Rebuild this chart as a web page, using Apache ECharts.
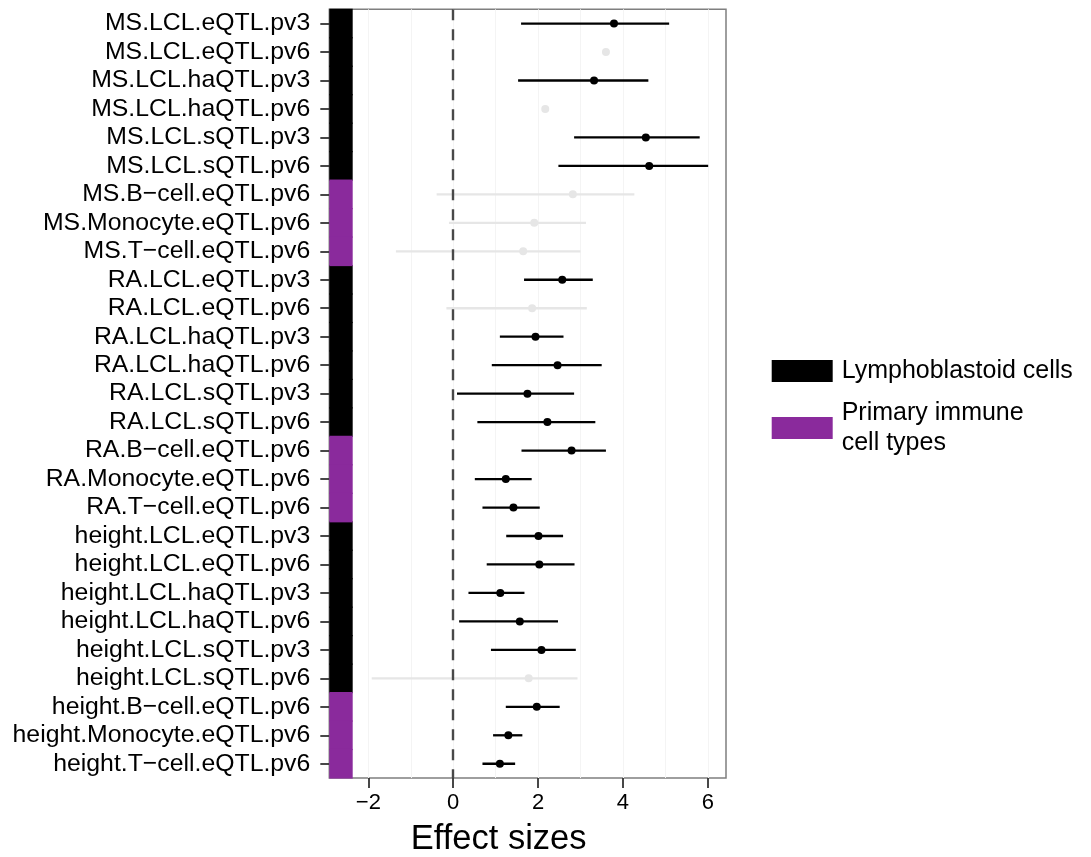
<!DOCTYPE html>
<html>
<head>
<meta charset="utf-8">
<script src="https://cdn.jsdelivr.net/npm/echarts@6/dist/echarts.min.js"></script>
<style>html,body{margin:0;padding:0;background:#fff}#c{width:1091px;height:857px}</style>
</head>
<body>
<div id="c"></div>
<script>
const categories = [
  'MS.LCL.eQTL.pv3','MS.LCL.eQTL.pv6','MS.LCL.haQTL.pv3','MS.LCL.haQTL.pv6',
  'MS.LCL.sQTL.pv3','MS.LCL.sQTL.pv6','MS.B-cell.eQTL.pv6','MS.Monocyte.eQTL.pv6',
  'MS.T-cell.eQTL.pv6','RA.LCL.eQTL.pv3','RA.LCL.eQTL.pv6','RA.LCL.haQTL.pv3',
  'RA.LCL.haQTL.pv6','RA.LCL.sQTL.pv3','RA.LCL.sQTL.pv6','RA.B-cell.eQTL.pv6',
  'RA.Monocyte.eQTL.pv6','RA.T-cell.eQTL.pv6','height.LCL.eQTL.pv3','height.LCL.eQTL.pv6',
  'height.LCL.haQTL.pv3','height.LCL.haQTL.pv6','height.LCL.sQTL.pv3','height.LCL.sQTL.pv6',
  'height.B-cell.eQTL.pv6','height.Monocyte.eQTL.pv6','height.T-cell.eQTL.pv6'
];
const estimate = [3.79,3.60,3.32,2.17,4.54,4.62,2.82,1.91,1.65,2.57,1.86,1.94,2.46,1.75,2.22,2.79,1.24,1.42,2.01,2.03,1.11,1.57,2.08,1.78,1.97,1.30,1.10];
const lower    = [1.60,null,1.53,null,2.85,2.48,-0.39,-0.10,-1.35,1.67,-0.16,1.10,0.91,0.09,0.57,1.61,0.51,0.69,1.25,0.79,0.36,0.14,0.89,-1.92,1.24,0.94,0.69];
const upper    = [5.09,null,4.60,null,5.81,6.01,4.27,3.13,3.00,3.29,3.15,2.60,3.50,2.85,3.35,3.60,1.85,2.04,2.59,2.86,1.68,2.47,2.89,2.93,2.51,1.63,1.46];
const significant = [1,0,1,0,1,1,0,0,0,1,0,1,1,1,1,1,1,1,1,1,1,1,1,0,1,1,1];
const cellGroup = ['LCL','LCL','LCL','LCL','LCL','LCL','Primary','Primary','Primary',
  'LCL','LCL','LCL','LCL','LCL','LCL','Primary','Primary','Primary',
  'LCL','LCL','LCL','LCL','LCL','LCL','Primary','Primary','Primary'];
const groupNames = {LCL: 'Lymphoblastoid cells', Primary: 'Primary immune\ncell types'};
const xTicks = [-2, 0, 2, 4, 6];
const xGrid = [-2, -1, 0, 1, 2, 3, 4, 5, 6];
const xMin = -2.92, xMax = 6.43;

const BLACK = '#000000', GREY = '#e6e6e6', PURPLE = '#8a2a9c';
const FONT = '"Liberation Sans", Arial, Helvetica, sans-serif';
const minus = s => String(s).replace(/-/g, '\u2212');

function stripSeries(key, color) {
  return {
    type: 'custom',
    name: groupNames[key],
    z: 2,
    itemStyle: {color: color},
    data: categories.map((c, i) => cellGroup[i] === key ? [xMin, c] : null).filter(d => d),
    encode: {x: 0, y: 1},
    renderItem: function (params, api) {
      const c = api.coord([api.value(0), api.value(1)]);
      const h = api.size([0, 1])[1];
      return {
        type: 'rect',
        shape: {x: params.coordSys.x, y: c[1] - h / 2 - 0.6, width: 23.4, height: h + 1.2},
        style: {fill: color}
      };
    }
  };
}

const ciData = categories.map((c, i) => [lower[i], upper[i], c, significant[i]]).filter(d => d[0] !== null);
const pointData = categories.map((c, i) => ({
  value: [estimate[i], c],
  itemStyle: {color: significant[i] ? BLACK : GREY, opacity: 1}
}));

const chart = echarts.init(document.getElementById('c'), null, {renderer: 'canvas'});
chart.setOption({
  animation: false,
  backgroundColor: '#ffffff',
  textStyle: {fontFamily: FONT},
  grid: {left: 329.3, right: 365, top: 9.3, bottom: 79, containLabel: false, outerBoundsMode: 'none',
         show: true, borderColor: '#7f7f7f', borderWidth: 1.5, backgroundColor: '#ffffff'},
  legend: {
    orient: 'vertical',
    left: 766.7,
    top: 351,
    itemWidth: 61,
    itemHeight: 22,
    itemGap: 12,
    icon: 'rect',
    selectedMode: false,
    data: [groupNames.LCL, groupNames.Primary],
    textStyle: {fontSize: 25, lineHeight: 30, color: '#000', fontFamily: FONT, padding: [0, 0, 0, 4]}
  },
  xAxis: {
    type: 'value',
    min: xMin,
    max: xMax,
    name: 'Effect sizes',
    nameLocation: 'middle',
    nameGap: 44,
    nameTextStyle: {fontSize: 34.5, color: '#000', fontFamily: FONT, padding: [0, 58, 0, 0]},
    axisLine: {show: false},
    axisTick: {show: true, length: 10, customValues: xTicks, lineStyle: {color: '#333', width: 1.8}},
    axisLabel: {show: true, customValues: xTicks, fontSize: 22, color: '#000', margin: 14, formatter: v => minus(v)},
    splitLine: {show: false}
  },
  yAxis: {
    type: 'category',
    data: categories,
    inverse: true,
    axisLine: {show: false, onZero: false},
    axisTick: {show: true, alignWithLabel: true, interval: 0, length: 9, lineStyle: {color: '#333', width: 1.8}},
    axisLabel: {fontSize: 24.8, interval: 0, color: '#000', margin: 19, formatter: v => minus(v)},
    splitLine: {show: false}
  },
  series: [
    {
      type: 'line', data: [], z: 1, silent: true,
      markLine: {
        z: 1, silent: true, symbol: 'none', label: {show: false},
        lineStyle: {color: '#f4f4f4', width: 1, type: 'solid'},
        data: xGrid.map(v => ({xAxis: v}))
      }
    },
    stripSeries('LCL', BLACK),
    stripSeries('Primary', PURPLE),
    {
      type: 'custom',
      z: 3,
      data: ciData,
      encode: {x: [0, 1], y: 2},
      renderItem: function (params, api) {
        const p1 = api.coord([api.value(0), api.value(2)]);
        const p2 = api.coord([api.value(1), api.value(2)]);
        return {
          type: 'line',
          shape: {x1: p1[0], y1: p1[1], x2: p2[0], y2: p2[1]},
          style: {stroke: api.value(3) ? BLACK : GREY, lineWidth: 2.3}
        };
      }
    },
    {
      type: 'line', data: [], z: 4, silent: true,
      markLine: {
        z: 4, silent: true, symbol: 'none', label: {show: false},
        lineStyle: {color: '#484848', width: 2.4, type: [11, 9]},
        data: [{xAxis: 0}]
      }
    },
    {
      type: 'scatter',
      z: 6,
      symbolSize: 8,
      itemStyle: {opacity: 1},
      data: pointData,
      encode: {x: 0, y: 1}
    }
  ]
});
</script>
</body>
</html>
